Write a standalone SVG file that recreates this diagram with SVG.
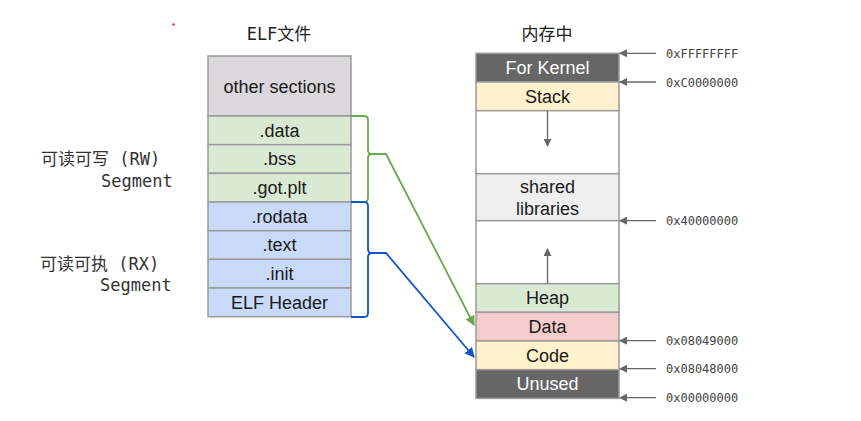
<svg xmlns="http://www.w3.org/2000/svg" width="861" height="421" viewBox="0 0 861 421">
<style>
.box{stroke:#9a9a9a;stroke-width:1.5}
.lbl{font-family:"Liberation Sans",Arial,sans-serif;font-size:18px;fill:#1a1a1a;text-anchor:middle}
.wl{fill:#ffffff}
.mono{font-family:"DejaVu Sans Mono","Noto Sans CJK SC",monospace;font-size:17px;fill:#333}
.addr{font-family:"DejaVu Sans Mono",monospace;font-size:12px;fill:#444}
.title{font-family:"DejaVu Sans Mono","Noto Sans CJK SC",monospace;font-size:17px;fill:#222;text-anchor:middle}
.gray{stroke:#666;stroke-width:1.3;fill:none}
</style>
<defs>
<marker id="ag" markerWidth="8" markerHeight="8" refX="7" refY="4" orient="auto" markerUnits="userSpaceOnUse"><path d="M0,0 L8,4 L0,8 z" fill="#666"/></marker>
<marker id="agr" markerWidth="10" markerHeight="10" refX="9" refY="5" orient="auto" markerUnits="userSpaceOnUse"><path d="M0,0 L10,5 L0,10 z" fill="#6aa84f"/></marker>
<marker id="abl" markerWidth="10" markerHeight="10" refX="9" refY="5" orient="auto" markerUnits="userSpaceOnUse"><path d="M0,0 L10,5 L0,10 z" fill="#1155cc"/></marker>
</defs>
<rect width="861" height="421" fill="#ffffff"/>
<rect x="172.5" y="23.5" width="2" height="2" fill="#e00000"/>

<text class="title" x="279" y="40">ELF文件</text>
<text class="title" x="547" y="40" style="font-family:'Noto Sans CJK SC',sans-serif">内存中</text>

<g id="rw-label"><text class="mono" x="41" y="165">可读可写 (RW)</text><text class="mono" x="101" y="187">Segment</text></g>
<g id="rx-label"><text class="mono" x="40" y="270">可读可执 (RX)</text><text class="mono" x="100" y="291">Segment</text></g>

<g id="elf">
<g id="other-sections"><rect class="box" x="208" y="56" width="143" height="60" fill="#dad8db"/><text class="lbl" x="279.5" y="93">other sections</text></g>
<g id="sec-data"><rect class="box" x="208" y="116" width="143" height="28.7" fill="#d9ead3"/><text class="lbl" x="279.5" y="136.5">.data</text></g>
<g id="sec-bss"><rect class="box" x="208" y="144.7" width="143" height="28.7" fill="#d9ead3"/><text class="lbl" x="279.5" y="165">.bss</text></g>
<g id="sec-got"><rect class="box" x="208" y="173.3" width="143" height="28.7" fill="#d9ead3"/><text class="lbl" x="279.5" y="193.8">.got.plt</text></g>
<g id="sec-rodata"><rect class="box" x="208" y="202" width="143" height="28.7" fill="#c9daf8"/><text class="lbl" x="279.5" y="222.5">.rodata</text></g>
<g id="sec-text"><rect class="box" x="208" y="230.7" width="143" height="28.7" fill="#c9daf8"/><text class="lbl" x="279.5" y="251">.text</text></g>
<g id="sec-init"><rect class="box" x="208" y="259.3" width="143" height="28.7" fill="#c9daf8"/><text class="lbl" x="279.5" y="279.8">.init</text></g>
<g id="sec-header"><rect class="box" x="208" y="288" width="143" height="28.7" fill="#c9daf8"/><text class="lbl" x="279.5" y="308.5">ELF Header</text></g>
</g>

<g id="memory">
<g id="kernel"><rect class="box" x="476" y="53.3" width="143" height="28.7" fill="#666666"/><text class="lbl wl" x="547.5" y="74">For Kernel</text></g>
<g id="stack"><rect class="box" x="476" y="82" width="143" height="28.7" fill="#fff2cc"/><text class="lbl" x="547.5" y="102.5">Stack</text></g>
<g id="gap1"><rect class="box" x="476" y="110.7" width="143" height="63" fill="#ffffff"/></g>
<g id="shared"><rect class="box" x="476" y="173.7" width="143" height="47" fill="#efefef"/><text class="lbl" x="547.5" y="193">shared</text><text class="lbl" x="547.5" y="215">libraries</text></g>
<g id="gap2"><rect class="box" x="476" y="220.7" width="143" height="63" fill="#ffffff"/></g>
<g id="heap"><rect class="box" x="476" y="283.7" width="143" height="28.7" fill="#d9ead3"/><text class="lbl" x="547.5" y="304.2">Heap</text></g>
<g id="data"><rect class="box" x="476" y="312.3" width="143" height="28.7" fill="#f4cccc"/><text class="lbl" x="547.5" y="332.8">Data</text></g>
<g id="code"><rect class="box" x="476" y="341" width="143" height="28.7" fill="#fff2cc"/><text class="lbl" x="547.5" y="361.5">Code</text></g>
<g id="unused"><rect class="box" x="476" y="369.7" width="143" height="28.7" fill="#666666"/><text class="lbl wl" x="547.5" y="390.2">Unused</text></g>
</g>

<g id="addresses">
<text class="addr" x="666" y="57.8">0xFFFFFFFF</text>
<text class="addr" x="666" y="86.5">0xC0000000</text>
<text class="addr" x="666" y="225.2">0x40000000</text>
<text class="addr" x="666" y="345.2">0x08049000</text>
<text class="addr" x="666" y="373.2">0x08048000</text>
<text class="addr" x="666" y="402.2">0x00000000</text>
</g>

<g id="connectors">
<line class="gray" x1="656" y1="53.3" x2="620" y2="53.3" marker-end="url(#ag)"/>
<line class="gray" x1="656" y1="82" x2="620" y2="82" marker-end="url(#ag)"/>
<line class="gray" x1="656" y1="220.7" x2="620" y2="220.7" marker-end="url(#ag)"/>
<line class="gray" x1="656" y1="340.7" x2="620" y2="340.7" marker-end="url(#ag)"/>
<line class="gray" x1="656" y1="368.7" x2="620" y2="368.7" marker-end="url(#ag)"/>
<line class="gray" x1="656" y1="397.7" x2="620" y2="397.7" marker-end="url(#ag)"/>
<line class="gray" x1="547.5" y1="110.7" x2="547.5" y2="146" marker-end="url(#ag)"/>
<line class="gray" x1="547.5" y1="283.7" x2="547.5" y2="249" marker-end="url(#ag)"/>
<path d="M351,116 H364 Q368,116 368,120 V150 Q368,154 372,154 Q368,154 368,158 V198 Q368,202 364,202 H351" fill="none" stroke="#6aa84f" stroke-width="1.8"/>
<path d="M372,154 H386 L474,325" fill="none" stroke="#6aa84f" stroke-width="1.8" marker-end="url(#agr)"/>
<path d="M351,202 H364 Q368,202 368,206 V249 Q368,253 372,253 Q368,253 368,257 V313 Q368,317 364,317 H351" fill="none" stroke="#1155cc" stroke-width="1.8"/>
<path d="M372,253 H386 L474,357" fill="none" stroke="#1155cc" stroke-width="1.8" marker-end="url(#abl)"/>
</g>
</svg>
